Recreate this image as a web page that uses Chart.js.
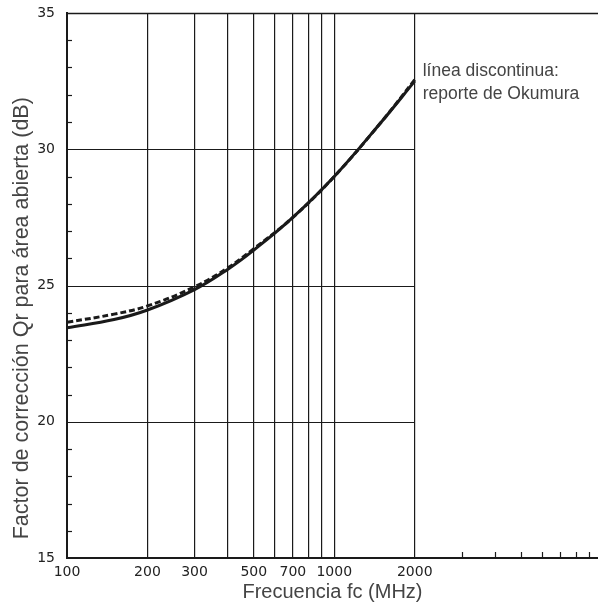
<!DOCTYPE html>
<html>
<head>
<meta charset="utf-8">
<script src="https://cdn.jsdelivr.net/npm/chart.js@4/dist/chart.umd.min.js"></script>
<style>
	html, body { margin: 0; padding: 0; background: #fff; overflow: hidden; }
	#wrap { width: 598px; height: 608px; position: relative; }
</style>
</head>
<body>
<div id="wrap"><canvas id="qr"></canvas></div>
<script>
	// Open-area correction factor Qr vs. frequency (log axis).
	const freqMHz = [ 100, 150, 200, 300, 400, 500, 700, 1000, 1500, 2000 ];
	const qrSolid = [ 23.45, 23.75, 24.1, 24.85, 25.6, 26.3, 27.5, 29.0, 31.0, 32.5 ];
	const qrDashed = [ 23.65, 23.95, 24.25, 24.95, 25.65, 26.35, 27.5, 29.0, 31.0, 32.55 ];

	const xTicks = [ 100, 200, 300, 400, 500, 600, 700, 800, 900, 1000, 2000, 3000, 4000, 5000, 6000, 7000, 8000, 9000 ];
	const xLabels = [ 100, 200, 300, 500, 700, 1000, 2000 ];
	const xGridMax = 2000;
	const yLabels = [ 15, 20, 25, 30, 35 ];
	const yGrid = [ 20, 25, 30 ];
	const yTitle = 'Factor de corrección Qr para área abierta (dB)';
	const noteLines = [ 'línea discontinua:', 'reporte de Okumura' ];

	const ink = '#1a1a1a';

	// Extra frame pieces: top rule, short horizontal grid, inner minor ticks, texts.
	const framePlugin = {
		id: 'frame',
		beforeDatasetsDraw( chart ) {
			const { ctx, chartArea: a, scales: { x, y } } = chart;
			ctx.save();
			ctx.strokeStyle = ink;
			ctx.lineWidth = 1.5;
			ctx.beginPath();
			ctx.moveTo( a.left, a.top + 0.5 );
			ctx.lineTo( a.right, a.top + 0.5 );
			ctx.stroke();

			ctx.lineWidth = 1.2;
			const gx0 = x.getPixelForValue( xTicks[ 0 ] );
			const gx1 = x.getPixelForValue( xGridMax );
			yGrid.forEach( ( v ) => {
				const py = Math.round( y.getPixelForValue( v ) ) + 0.5;
				ctx.beginPath();
				ctx.moveTo( gx0, py );
				ctx.lineTo( gx1, py );
				ctx.stroke();
			} );

			y.ticks.forEach( ( t ) => {
				if ( yLabels.includes( t.value ) ) return;
				const py = Math.round( y.getPixelForValue( t.value ) ) + 0.5;
				ctx.beginPath();
				ctx.moveTo( a.left, py );
				ctx.lineTo( a.left + 5, py );
				ctx.stroke();
			} );
			xTicks.filter( ( v ) => v > xGridMax ).forEach( ( v ) => {
				const px = Math.round( x.getPixelForValue( v ) ) + 0.5;
				ctx.beginPath();
				ctx.moveTo( px, a.bottom );
				ctx.lineTo( px, a.bottom - 6 );
				ctx.stroke();
			} );

			ctx.fillStyle = '#444';
			ctx.font = '17.5px "Liberation Sans", Arial, sans-serif';
			ctx.textBaseline = 'middle';
			const nx = x.getPixelForValue( xGridMax ) + 8;
			noteLines.forEach( ( line, i ) => {
				ctx.fillText( line, nx, y.getPixelForValue( 32.85 ) + i * 23 );
			} );

			// Axis title for Qr, sitting a little below the middle of the axis.
			ctx.save();
			ctx.translate( 22, y.getPixelForValue( 23.8 ) );
			ctx.rotate( -Math.PI / 2 );
			ctx.textAlign = 'center';
			ctx.font = '21.5px "Liberation Sans", Arial, sans-serif';
			ctx.fillText( yTitle, 0, 0 );
			ctx.restore();
			ctx.restore();
		},
	};

	new Chart( document.getElementById( 'qr' ), {
		type: 'line',
		data: {
			datasets: [
				{
					label: 'Qr',
					data: freqMHz.map( ( f, i ) => ( { x: f, y: qrSolid[ i ] } ) ),
					borderColor: ink,
					borderWidth: 3,
					pointRadius: 0,
					tension: 0.4,
				},
				{
					label: 'Okumura',
					data: freqMHz.map( ( f, i ) => ( { x: f, y: qrDashed[ i ] } ) ),
					borderColor: ink,
					borderWidth: 3,
					borderDash: [ 6, 3 ],
					pointRadius: 0,
					tension: 0.4,
				},
			],
		},
		options: {
			responsive: true,
			maintainAspectRatio: false,
			animation: false,
			layout: { padding: { top: 13, right: 0, left: 0, bottom: 0 } },
			plugins: { legend: { display: false }, tooltip: { enabled: false } },
			scales: {
				x: {
					type: 'logarithmic',
					min: 100,
					max: 9700,
					afterBuildTicks: ( s ) => { s.ticks = xTicks.map( ( v ) => ( { value: v } ) ); },
					afterFit: ( s ) => { s.height = 50; },
					grid: {
						drawTicks: false,
						lineWidth: 1.2,
						color: ( c ) => ( c.tick && c.tick.value <= xGridMax && c.tick.value > xTicks[ 0 ] ? ink : 'rgba(0,0,0,0)' ),
					},
					border: { display: true, color: ink, width: 2 },
					ticks: {
						autoSkip: false,
						maxRotation: 0,
						padding: 6,
						color: '#222',
						font: { family: '"DejaVu Sans", sans-serif', size: 14 },
						callback: ( v ) => ( xLabels.includes( v ) ? String( v ) : '' ),
					},
					title: {
						display: true,
						text: 'Frecuencia fc (MHz)',
						color: '#444',
						font: { family: '"Liberation Sans", Arial, sans-serif', size: 20 },
						padding: { top: 0 },
					},
				},
				y: {
					min: 15,
					max: 35,
					afterFit: ( s ) => {
						s.width = 67;
						s.paddingTop = 0;
						s.paddingBottom = 0;
					},
					grid: { display: false, drawTicks: false },
					border: { display: true, color: ink, width: 2 },
					ticks: {
						stepSize: 1,
						autoSkip: false,
						padding: 12,
						color: '#222',
						font: { family: '"DejaVu Sans", sans-serif', size: 14 },
						callback: ( v ) => ( yLabels.includes( v ) ? String( v ) : '' ),
					},
				},
			},
		},
		plugins: [ framePlugin ],
	} );
</script>
</body>
</html>
